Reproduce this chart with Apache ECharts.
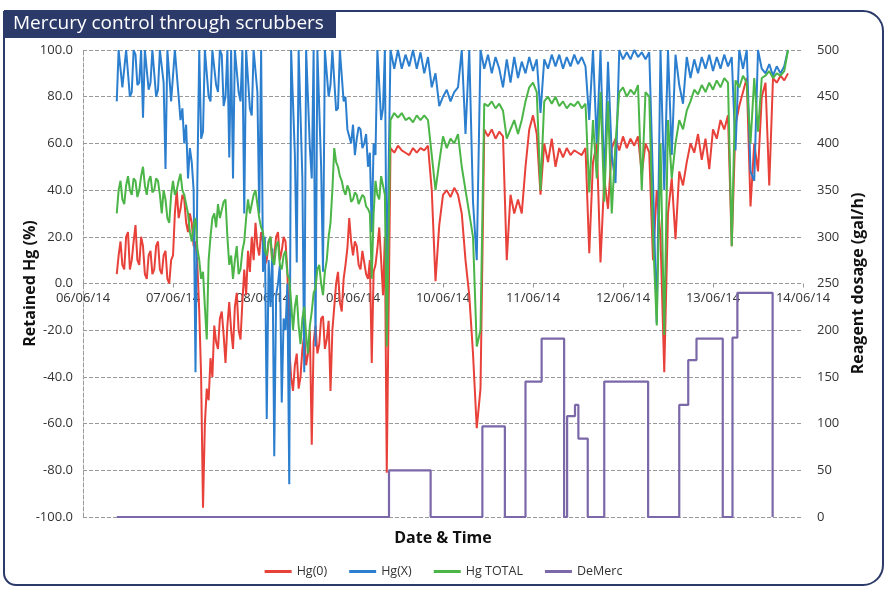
<!DOCTYPE html>
<html><head><meta charset="utf-8">
<script src="https://cdn.jsdelivr.net/npm/echarts@6/dist/echarts.min.js"></script>
<style>html,body{margin:0;padding:0;background:#fff}#c{width:887px;height:591px}</style>
</head><body><div id="c"></div>
<script>
// Date tick labels (one per day, 24 h apart)
const dateLabels = ['06/06/14','07/06/14','08/06/14','09/06/14','10/06/14','11/06/14','12/06/14','13/06/14','14/06/14'];
// Sampling: every 30 min from 06/06 09:00 to 09/06 08:30, then hourly to 13/06 20:00
// (hours since 06/06/14 00:00)
const earlyStartHour = 9, earlyEndHour = 81, lateEndHour = 188;

// ---- Hg(0) retained, % ----
const hg0Early = [
  4,12, 18,8, 6,20, 22,6, 10,18, 25,10, 8,20, 16,4, 2,12, 14,4, 6,16, 18,6,
  4,12, 14,2, 0,10, 12,30, 40,28, 32,38, 36,26, 22,30, 26,16, 18,8, -12,-40, -96,-60,
  -45,-50, -32,-40, -18,-25, -28,-15, -12,-22, -34,-18, -8,-20, -28,-10, -4,-20, -24,-8, 6,-5, 14,5,
  20,10, 26,16, 12,22, 18,8, 10,18, 20,8, 12,20, 22,10, 14,20, 18,5, -28,-40, -46,-35,
  -30,-45, -40,-28, -22,-35, -30,-20, -69,-25, -18,-30, -26,-15, -14,-28, -24,-16, -46,-20, -10,0, 5,-8,
  -12,2, 8,15, 28,18, 12,18, 16,8, 6,14, 14,4, 2,10, -34,5, 8,15, 24,10, -5,20
];
const hg0Late = [
  -81,58,56,59,57,56,55,58,56,58,57,59,
  40,1,25,38,40,37,41,38,30,10,-5,-30,
  -62,-45,66,63,66,62,65,63,10,38,30,36,
  30,50,66,72,64,38,60,52,62,50,58,54,
  58,55,57,56,55,58,13,52,60,9,45,32,
  58,62,57,63,58,62,59,63,47,60,56,10,
  40,20,-38,30,45,19,48,42,52,60,56,64,
  53,62,49,66,62,70,66,72,16,68,76,82,
  88,33,60,48,80,86,42,88,86,89,87,90
];
// ---- Hg(X) retained, % ----
const hgXEarly = [
  78,100, 100,84, 84,100, 100,80, 82,100, 98,85, 86,100, 71,100, 100,83, 86,100, 100,80, 83,100,
  100,86, 49,100, 100,78, 78,100, 100,80, 70,75, 60,68, 45,58, 52,40, -38,45, 100,62, 65,100,
  100,80, 78,100, 100,85, 82,100, 98,76, 80,100, 54,100, 45,100, 100,82, 78,100, 30,100, 100,75,
  72,100, 100,82, 30,100, 5,20, -58,10, -10,15, -74,-5, 0,8, -51,-15, -20,0, -86,100, 100,55,
  9,100, 100,45, -38,100, 100,58, 45,100, -27,100, 100,50, 5,100, 100,80, 85,100, 100,74, 75,100,
  100,78, 80,66, 66,60, 68,55, 62,67, 66,58, 60,64, 50,56, 22,60, 55,100, 100,70, 75,100
];
const hgXLate = [
  -3,100,92,100,92,98,93,100,92,99,90,97,
  84,90,76,80,83,78,82,84,100,64,100,35,
  10,100,92,98,90,97,92,84,96,86,97,88,
  95,90,97,91,96,73,96,92,98,93,98,92,
  97,93,98,94,97,93,70,100,60,100,43,95,
  55,43,100,96,99,96,100,97,99,96,99,44,
  -17,100,40,100,55,98,85,77,97,88,96,90,
  97,92,98,91,97,92,98,93,97,57,100,92,
  100,48,44,100,92,90,94,89,93,90,93,100
];
// ---- Hg TOTAL retained, % ----
const hgTotalEarly = [
  30,40, 44,36, 34,42, 46,40, 38,45, 44,37, 40,46, 50,42, 38,44, 46,39, 40,45, 44,38,
  30,40, 36,28, 26,38, 44,38, 40,44, 47,40, 38,34, 30,22, 18,25, 28,15, 10,2, 5,-10,
  -24,10, 20,28, 30,24, 34,28, 28,35, 36,20, 8,12, 2,10, 16,4, 6,14, 18,28, 36,30,
  30,38, 40,34, 28,24, 22,14, 12,18, 20,10, 8,16, 18,8, 6,12, 14,4, 2,-8, -20,-10,
  -5,-18, -26,-15, -10,-22, -30,-18, -12,-4, -2,6, 8,0, -5,5, 10,20, 26,40, 58,52, 50,46,
  44,40, 38,42, 40,35, 36,39, 38,34, 34,38, 37,33, 32,30, 2,30, 44,38, 36,46, 42,38
];
const hgTotalLate = [
  -27,70,73,71,73,70,71,69,72,70,72,70,
  55,40,52,63,58,62,60,64,50,40,30,20,
  -27,-20,77,76,78,75,77,74,62,66,70,64,
  70,78,84,86,82,40,78,80,77,80,76,78,
  75,77,76,78,75,77,39,70,45,82,35,78,
  30,60,82,84,80,83,81,85,40,82,80,20,
  -18,60,-22,70,45,60,70,66,74,78,83,81,
  85,82,86,83,87,84,88,86,16,87,84,89,
  86,60,88,65,88,89,91,88,90,89,91,100
];
// ---- DeMerc reagent dosage (gal/h): change times (hours) and new levels ----
const demercHours  = [9, 81.6, 92.7, 106.5, 112.5, 118, 122.3, 128.3, 129.1, 131.2, 132.1, 134.6, 139, 150.7, 159, 161.4, 163.6, 170.6, 173.2, 174.5, 183.9];
const demercValues = [0, 50, 0, 97, 0, 145, 191, 0, 108, 120, 84, 0, 145, 0, 120, 168, 191, 0, 192, 240, 0];

// sample times
const sampleHours = [];
for (let h = earlyStartHour; h < earlyEndHour; h += 0.5) sampleHours.push(h);
for (let h = earlyEndHour; h <= lateEndHour; h += 1) sampleHours.push(h);
const pairs = arr => arr.map((v, i) => [sampleHours[i], v]);

const hg0 = hg0Early.concat(hg0Late);
const hgX = hgXEarly.concat(hgXLate);
const hgTotal = hgTotalEarly.concat(hgTotalLate);

const navy = '#2c3a6a';
const font = '"Open Sans", "Noto Sans", sans-serif';

const chart = echarts.init(document.getElementById('c'), null, {renderer: 'canvas'});
chart.setOption({
  animation: false,
  backgroundColor: '#fff',
  textStyle: {fontFamily: font},
  grid: {left: 83, right: 84, top: 50, bottom: 74, containLabel: false},
  legend: {
    bottom: 8, left: 'center', itemGap: 22, itemWidth: 27, itemHeight: 3, icon: 'rect',
    textStyle: {fontSize: 12.5, color: '#333', fontFamily: font},
    data: ['Hg(0)', 'Hg(X)', 'Hg TOTAL', 'DeMerc']
  },
  xAxis: {
    type: 'value', min: 0, max: 192, interval: 24, position: 'bottom', offset: -233.5,
    axisLine: {show: false, onZero: false},
    axisTick: {show: true, length: 4, lineStyle: {color: '#9a9a9a'}},
    axisLabel: {formatter: v => dateLabels[Math.round(v / 24)], fontSize: 13, color: '#333', margin: 8},
    splitLine: {show: false}
  },
  yAxis: [{
    type: 'value', min: -100, max: 100, interval: 20, position: 'left',
    name: 'Retained Hg (%)', nameLocation: 'middle', nameRotate: 90, nameGap: 45, nameMoveOverlap: false,
    nameTextStyle: {fontSize: 16, fontWeight: 'bold', color: '#111', fontFamily: font},
    axisLine: {show: true, lineStyle: {color: '#9a9a9a', type: 'dashed'}},
    axisTick: {show: false},
    axisLabel: {formatter: v => v.toFixed(1), fontSize: 13, color: '#333', margin: 10},
    splitLine: {show: true, lineStyle: {color: '#9a9a9a', type: 'dashed', width: 1}}
  }, {
    type: 'value', min: 0, max: 500, interval: 50, position: 'right',
    name: 'Reagent dosage (gal/h)', nameLocation: 'middle', nameRotate: 90, nameGap: 47, nameMoveOverlap: false,
    nameTextStyle: {fontSize: 16, fontWeight: 'bold', color: '#111', fontFamily: font},
    axisLine: {show: false}, axisTick: {show: false},
    axisLabel: {fontSize: 13, color: '#333', margin: 14},
    splitLine: {show: false}
  }],
  series: [
    {name: 'Hg(0)', type: 'line', yAxisIndex: 0, showSymbol: false, symbol: 'none', z: 3,
     lineStyle: {width: 2, color: '#e8413a'}, itemStyle: {color: '#e8413a'}, data: pairs(hg0)},
    {name: 'Hg(X)', type: 'line', yAxisIndex: 0, showSymbol: false, symbol: 'none', z: 3,
     lineStyle: {width: 2, color: '#2c7fcf'}, itemStyle: {color: '#2c7fcf'}, data: pairs(hgX)},
    {name: 'Hg TOTAL', type: 'line', yAxisIndex: 0, showSymbol: false, symbol: 'none', z: 3,
     lineStyle: {width: 2, color: '#4cb548'}, itemStyle: {color: '#4cb548'}, data: pairs(hgTotal)},
    {name: 'DeMerc', type: 'line', yAxisIndex: 1, showSymbol: false, symbol: 'none', step: 'end', z: 3,
     lineStyle: {width: 2.2, color: '#7b68a8'}, itemStyle: {color: '#7b68a8'},
     data: demercHours.map((h, i) => [h, demercValues[i]])}
  ],
  graphic: [
    {type: 'rect', z: -1, shape: {x: 4, y: 11, width: 879, height: 574, r: [0, 20, 20, 12]},
     style: {fill: null, stroke: navy, lineWidth: 2}},
    {type: 'rect', z: 5, shape: {x: 4, y: 10, width: 332, height: 28}, style: {fill: navy}},
    {type: 'text', z: 6, style: {text: 'Mercury control through scrubbers', x: 13, y: 24, verticalAlign: 'middle',
      fill: '#fff', font: '19px ' + font}},
    {type: 'text', z: 6, style: {text: 'Date & Time', x: 443, y: 538, align: 'center', verticalAlign: 'middle',
      fill: '#111', font: 'bold 16px ' + font}}
  ]
});
</script></body></html>
